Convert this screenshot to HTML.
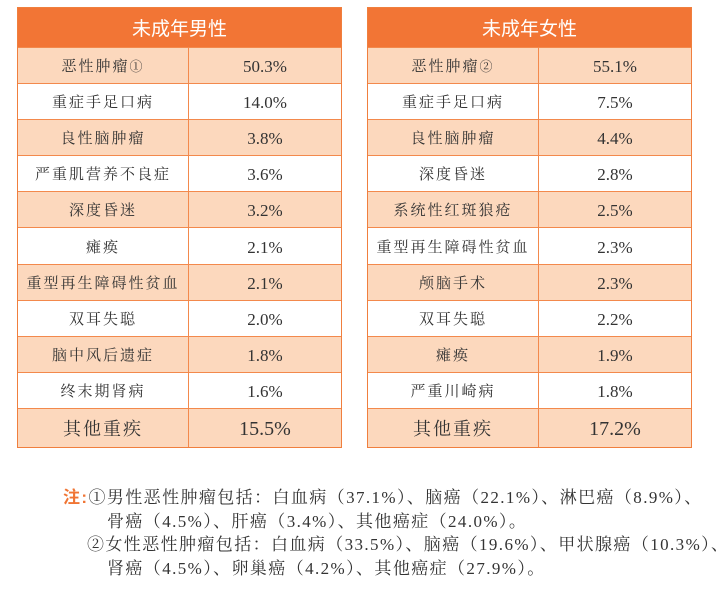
<!DOCTYPE html>
<html><head><meta charset="utf-8"><style>
body{margin:0;width:716px;height:591px;background:#fff;position:relative;overflow:hidden;font-family:"Liberation Serif","Noto Serif CJK SC",serif;}
.tbl{position:absolute;top:7px;width:325px;border:1.5px solid #f07f3e;box-sizing:border-box;}
.hd{height:39px;background:#f27535;color:#fff;font:19px "Liberation Sans","Noto Sans CJK SC",sans-serif;display:flex;align-items:center;justify-content:center;}
.row{display:flex;height:36.1px;border-top:1.5px solid #f3894c;box-sizing:border-box;color:#333;font-size:15px;}
.row.last{height:39px;font-size:18px;}
.row.p{background:#fcd8bd;}
.c1{width:170px;border-right:1.5px solid #f3894c;display:flex;align-items:center;justify-content:center;letter-spacing:2px;}
.c2{flex:1;display:flex;align-items:center;justify-content:center;font-size:17px;line-height:17px;padding-top:2px;}
.row.last .c2{font-size:20px;line-height:20px;}
.notes{position:absolute;left:63px;top:486px;font-size:17px;letter-spacing:1.4px;line-height:23.7px;color:#333;white-space:nowrap;}
.notes .k{color:#f07534;font-weight:bold;font-family:"Liberation Sans","Noto Sans CJK SC",sans-serif;}
</style></head><body>
<div class="tbl" style="left:17px">
<div class="hd">未成年男性</div>
<div class="row p"><div class="c1">恶性肿瘤<sup style="font-size:13px">①</sup></div><div class="c2">50.3%</div></div>
<div class="row"><div class="c1">重症手足口病</div><div class="c2">14.0%</div></div>
<div class="row p"><div class="c1">良性脑肿瘤</div><div class="c2">3.8%</div></div>
<div class="row"><div class="c1">严重肌营养不良症</div><div class="c2">3.6%</div></div>
<div class="row p"><div class="c1">深度昏迷</div><div class="c2">3.2%</div></div>
<div class="row"><div class="c1">瘫痪</div><div class="c2">2.1%</div></div>
<div class="row p"><div class="c1">重型再生障碍性贫血</div><div class="c2">2.1%</div></div>
<div class="row"><div class="c1">双耳失聪</div><div class="c2">2.0%</div></div>
<div class="row p"><div class="c1">脑中风后遗症</div><div class="c2">1.8%</div></div>
<div class="row"><div class="c1">终末期肾病</div><div class="c2">1.6%</div></div>
<div class="row p last"><div class="c1">其他重疾</div><div class="c2">15.5%</div></div>
</div>
<div class="tbl" style="left:367px">
<div class="hd">未成年女性</div>
<div class="row p"><div class="c1">恶性肿瘤<sup style="font-size:13px">②</sup></div><div class="c2">55.1%</div></div>
<div class="row"><div class="c1">重症手足口病</div><div class="c2">7.5%</div></div>
<div class="row p"><div class="c1">良性脑肿瘤</div><div class="c2">4.4%</div></div>
<div class="row"><div class="c1">深度昏迷</div><div class="c2">2.8%</div></div>
<div class="row p"><div class="c1">系统性红斑狼疮</div><div class="c2">2.5%</div></div>
<div class="row"><div class="c1">重型再生障碍性贫血</div><div class="c2">2.3%</div></div>
<div class="row p"><div class="c1">颅脑手术</div><div class="c2">2.3%</div></div>
<div class="row"><div class="c1">双耳失聪</div><div class="c2">2.2%</div></div>
<div class="row p"><div class="c1">瘫痪</div><div class="c2">1.9%</div></div>
<div class="row"><div class="c1">严重川崎病</div><div class="c2">1.8%</div></div>
<div class="row p last"><div class="c1">其他重疾</div><div class="c2">17.2%</div></div>
</div>
<div class="notes">
<div><span class="k">注:</span>①男性恶性肿瘤包括：白血病（37.1%）、脑癌（22.1%）、淋巴癌（8.9%）、</div>
<div style="padding-left:44px">骨癌（4.5%）、肝癌（3.4%）、其他癌症（24.0%）。</div>
<div style="padding-left:24px">②女性恶性肿瘤包括：白血病（33.5%）、脑癌（19.6%）、甲状腺癌（10.3%）、</div>
<div style="padding-left:44px">肾癌（4.5%）、卵巢癌（4.2%）、其他癌症（27.9%）。</div>
</div>
</body></html>
